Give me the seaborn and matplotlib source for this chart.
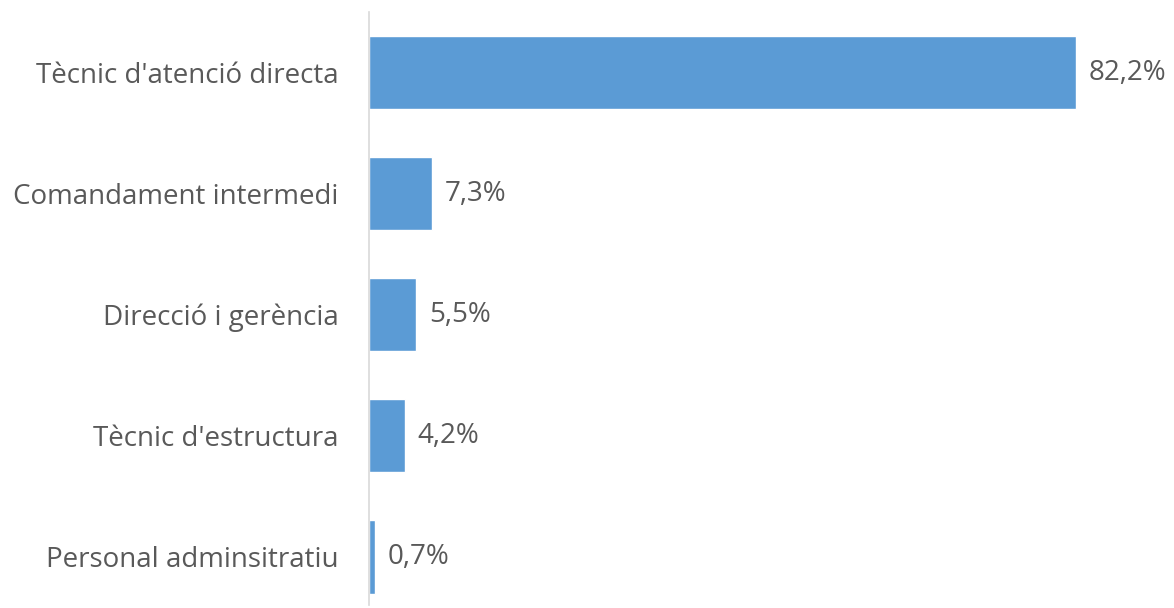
import numpy as np
import pandas as pd
import seaborn as sns
import matplotlib
matplotlib.use("Agg")
import matplotlib.pyplot as plt

# categories and values (%)
categories = ["Tècnic d'atenció directa", "Comandament intermedi",
              "Direcció i gerència", "Tècnic d'estructura",
              "Personal adminsitratiu"]
values = [82.2, 7.3, 5.5, 4.2, 0.7]

df = pd.DataFrame({"cat": categories, "val": values})

sns.set_style("white")
plt.rcParams['font.family'] = ['Open Sans', 'DejaVu Sans']

fig = plt.figure(figsize=(11.74, 6.08), dpi=100)
ax = fig.add_axes([369 / 1174, 3 / 608, 1 - 369 / 1174, 593 / 608])

sns.barplot(data=df, x="val", y="cat", color="#5B9BD5", saturation=1,
            width=0.61, ax=ax)

ax.set_xlim(0, 93.6)
ax.set_ylim(4.4, -0.5)

# value labels with decimal comma
for i, v in enumerate(values):
    ax.annotate(f"{v:.1f}%".replace(".", ","), (v, i), xytext=(9, 0),
                textcoords="offset points", va="center", ha="left",
                fontsize=20, color="#595959")

ax.set_xlabel("")
ax.set_ylabel("")
ax.set_xticks([])
ax.tick_params(axis="y", length=0, pad=22, labelsize=20, labelcolor="#595959")
for s in ["top", "right", "bottom"]:
    ax.spines[s].set_visible(False)
ax.spines["left"].set_color("#D9D9D9")
ax.spines["left"].set_linewidth(1.2)

fig.savefig("out.png", dpi=100)
